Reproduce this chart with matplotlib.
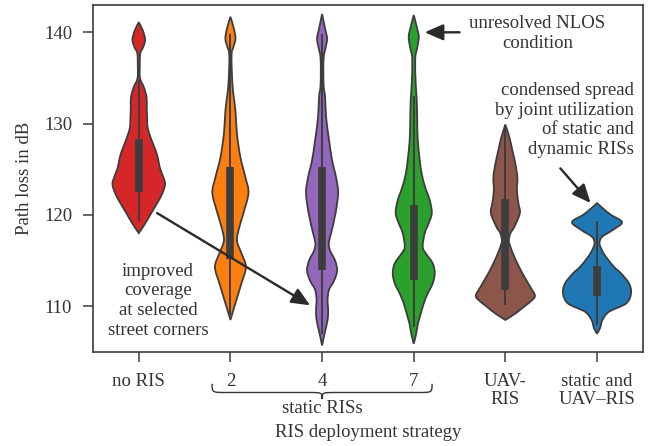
import numpy as np
import matplotlib
matplotlib.use("Agg")
import matplotlib.pyplot as plt
from matplotlib.path import Path
from matplotlib.patches import PathPatch
import matplotlib.transforms as mtransforms

plt.rcParams['font.family'] = ['Liberation Serif', 'DejaVu Serif']
plt.rcParams['font.size'] = 13.5

# --- data ---
categories = ["no RIS", "2", "4", "7", "UAV-\nRIS", "static and\nUAV\u2013RIS"]
colors = ["#d62728", "#ff7f0e", "#9467bd", "#2ca02c", "#8c564b", "#1f77b4"]

# violin outlines: path loss levels (dB) and half widths (category units)
red_v = [118.0, 119.0, 120.2, 121.4, 122.4, 123.4, 124.3, 125.2, 126.3, 127.3, 128.2, 129.5,
         130.7, 131.8, 132.9, 134.0, 135.0, 136.5, 137.7, 138.4, 139.2, 140.2, 141.1]
red_w = [0, .066, .136, .207, .259, .287, .262, .229, .207, .175, .139, .098,
         .091, .087, .085, .055, .013, .011, .016, .049, .069, .044, 0]

orange_v = [108.5, 109.6, 110.7, 112.5, 114.3, 115.8, 117.2, 118.7, 120.2, 122.4, 124.1,
            126.3, 128.9, 131.4, 133.2, 134.3, 136.1, 137.7, 138.4, 139.3, 140.4, 141.7]
orange_w = [0, .033, .066, .120, .169, .120, .071, .098, .142, .197, .164,
            .109, .071, .055, .033, .022, .014, .013, .033, .055, .038, 0]

purple_v = [105.7, 107.0, 108.5, 109.6, 110.7, 111.8, 112.8, 113.9, 115.0, 116.1, 116.9,
            118.0, 120.2, 122.4, 124.1, 126.0, 128.2, 130.7, 132.9, 134.3, 137.1, 138.3,
            139.3, 140.4, 142.0]
purple_w = [0, .027, .060, .066, .060, .076, .131, .164, .142, .087, .073,
            .098, .147, .175, .153, .109, .076, .044, .033, .016, .016, .038,
            .055, .033, 0]

green_v = [105.9, 107.0, 108.0, 108.8, 110.3, 111.4, 112.5, 113.6, 114.7, 115.8, 116.5,
           118.0, 119.1, 120.2, 121.6, 123.0, 124.5, 126.0, 128.2, 130.4, 132.6, 134.3,
           137.1, 138.3, 139.5, 140.6, 141.9]
green_w = [0, .027, .044, .066, .109, .153, .207, .229, .207, .131, .098,
           .120, .164, .197, .175, .126, .087, .066, .044, .038, .033, .022,
           .016, .038, .055, .033, 0]

brown_v = [108.5, 109.2, 109.9, 110.7, 111.2, 112.1, 113.6, 114.7, 115.4, 116.5, 117.2,
           118.0, 118.7, 120.2, 121.3, 122.7, 124.1, 125.6, 127.1, 128.5, 129.9]
brown_w = [0, .109, .197, .295, .322, .273, .186, .131, .098, .055, .038,
           .055, .098, .158, .142, .126, .131, .109, .076, .044, 0]

blue_v = [107.0, 107.6, 108.5, 109.4, 110.3, 111.4, 112.5, 113.6, 114.3, 115.4, 116.1,
          116.9, 117.6, 118.3, 119.2, 120.0, 120.7, 121.3]
blue_w = [0, .033, .060, .131, .317, .371, .349, .262, .186, .098, .055,
          .027, .055, .164, .273, .153, .066, 0]

# inner box: q1, q3, lower whisker, upper whisker
q1 = [122.5, 115.2, 114.0, 112.9, 111.8, 111.1]
q3 = [128.3, 125.2, 125.2, 121.1, 121.7, 114.4]
whisk_lo = [119.3, 109.0, 107.0, 107.7, 110.1, 107.9]
whisk_hi = [134.8, 139.8, 139.8, 133.0, 129.8, 119.3]

outlines = [(red_v, red_w), (orange_v, orange_w), (purple_v, purple_w),
            (green_v, green_w), (brown_v, brown_w), (blue_v, blue_w)]

edge = "#3d3d3d"
textc = "#333333"


def smooth_side(pts):
    # Catmull-Rom through the points, as cubic bezier segments
    pts = np.asarray(pts, float)
    ext = np.vstack([pts[0], pts, pts[-1]])
    verts = [pts[0]]
    codes = [Path.MOVETO]
    for i in range(1, len(ext) - 2):
        p0, p1, p2, p3 = ext[i - 1], ext[i], ext[i + 1], ext[i + 2]
        verts += [p1 + (p2 - p0) / 6, p2 - (p3 - p1) / 6, p2]
        codes += [Path.CURVE4] * 3
    return verts, codes


fig = plt.figure(figsize=(6.5, 4.46), dpi=100)
ax = fig.add_axes([0.143, 0.211, 0.846, 0.778])

for i, (v, w) in enumerate(outlines):
    v = np.array(v)
    w = np.array(w)
    right = np.column_stack([i + w, v])
    left = np.column_stack([i - w, v])[::-1]
    rv, rc = smooth_side(right)
    lv, lc = smooth_side(left)
    lc[0] = Path.LINETO
    verts = rv + lv + [rv[0]]
    codes = rc + lc + [Path.CLOSEPOLY]
    ax.add_patch(PathPatch(Path(verts, codes), facecolor=colors[i], edgecolor=edge,
                           lw=1.3, zorder=2))
    ax.plot([i, i], [whisk_lo[i], whisk_hi[i]], color=edge, lw=1.4, zorder=3,
            solid_capstyle='butt')
    ax.plot([i, i], [q1[i], q3[i]], color=edge, lw=5.5, zorder=3, solid_capstyle='butt')

ax.set_xlim(-0.5, 5.5)
ax.set_ylim(105, 143)
ax.set_xticks(range(len(categories)))
ax.set_xticklabels(categories, color=textc, linespacing=1.1)
ax.set_yticks([110, 120, 130, 140])
ax.tick_params(axis='both', length=7, width=1.1, color=edge, labelcolor=textc, pad=8)
for s in ax.spines.values():
    s.set_color(edge)
    s.set_linewidth(1.2)
ax.set_ylabel("Path loss in dB", color=textc, labelpad=8)
ax.set_xlabel("RIS deployment strategy", color=textc, va='center')
ax.xaxis.set_label_coords(0.5, -0.233)

# brace under the static RIS ticks
tr = mtransforms.blended_transform_factory(ax.transData, ax.transAxes)
x0, x1, xc, r = 0.80, 3.20, 2.0, 0.15
yt, ym, yc = -0.092, -0.117, -0.136
bverts = [(x0, yt), (x0, ym), (x0, ym), (x0 + r, ym), (xc - r, ym),
          (xc, ym), (xc, ym), (xc, yc), (xc, ym), (xc, ym), (xc + r, ym),
          (x1 - r, ym), (x1, ym), (x1, ym), (x1, yt)]
bcodes = [Path.MOVETO, Path.CURVE4, Path.CURVE4, Path.CURVE4, Path.LINETO,
          Path.CURVE4, Path.CURVE4, Path.CURVE4, Path.CURVE4, Path.CURVE4, Path.CURVE4,
          Path.LINETO, Path.CURVE4, Path.CURVE4, Path.CURVE4]
ax.add_patch(PathPatch(Path(bverts, bcodes), facecolor='none', edgecolor=textc,
                       lw=1.0, transform=tr, clip_on=False))
ax.text(xc, -0.163, "static RISs", transform=tr, ha='center', va='center', color=textc)

# annotations
arrow = dict(arrowstyle='-|>,head_length=0.8,head_width=0.35', color="#2a2a2a", lw=1.7,
             shrinkA=0, shrinkB=0, mutation_scale=14)
ax.annotate("", xy=(1.87, 110.1), xytext=(0.2, 120.2), arrowprops=arrow, zorder=4)
ax.text(0.21, 110.6, "improved\ncoverage\nat selected\nstreet corners", ha='center',
        va='center', color=textc, linespacing=1.2)

ax.annotate("", xy=(3.12, 140.0), xytext=(3.5, 140.0), arrowprops=arrow, zorder=4)
ax.text(4.35, 139.9, "unresolved NLOS\ncondition", ha='center', va='center',
        color=textc, linespacing=1.2)

ax.annotate("", xy=(4.93, 121.3), xytext=(4.60, 125.1), arrowprops=arrow, zorder=4)
ax.text(5.40, 130.4, "condensed spread\nby joint utilization\nof static and\ndynamic RISs",
        ha='right', va='center', color=textc, linespacing=1.2)

fig.savefig("out.png", dpi=100)
